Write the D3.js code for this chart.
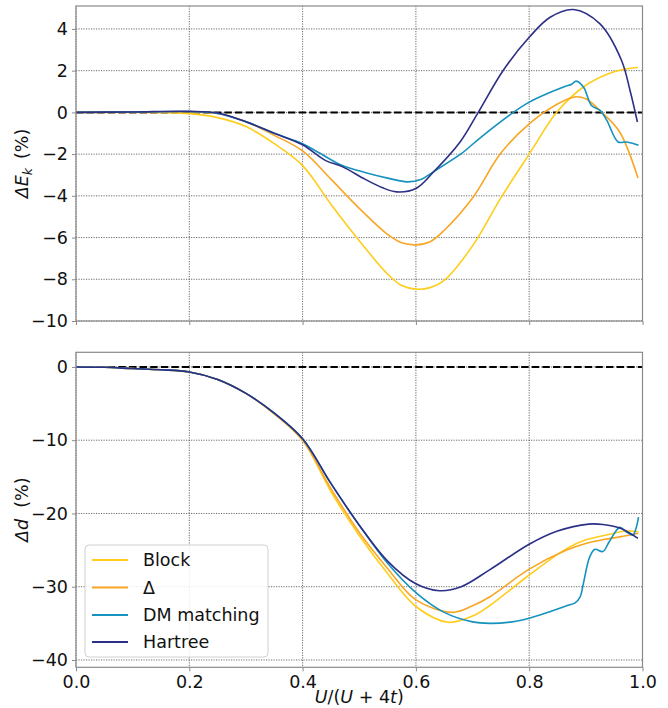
<!DOCTYPE html>
<html>
<head>
<meta charset="utf-8">
<script src="https://cdn.jsdelivr.net/npm/d3@7"></script>
<style>
  html, body { margin: 0; padding: 0; background: #fff; }
  svg { display: block; font-family: "DejaVu Sans", sans-serif; }
</style>
</head>
<body>
<svg id="chart" width="668" height="708"></svg>
<script>
// ---------------- data ----------------
const seriesNames = ["Block", "Δ", "DM matching", "Hartree"];
const seriesColors = ["#ffcd1c", "#f8a623", "#1592bd", "#2c2f86"];

const xTicks = [0, 0.2, 0.4, 0.6, 0.8, 1.0];
const xTickLabels = ["0.0", "0.2", "0.4", "0.6", "0.8", "1.0"];
const ekTicks = [-10, -8, -6, -4, -2, 0, 2, 4];
const dTicks = [-40, -30, -20, -10, 0];

// Top panel: ΔE_k (%)
const ekBlockX = [0, 0.1, 0.15, 0.2, 0.25, 0.3, 0.35, 0.4, 0.45, 0.5, 0.55, 0.575, 0.6, 0.625, 0.65, 0.7, 0.75, 0.8, 0.85, 0.9, 0.95, 0.992];
const ekBlockY = [0, 0, -0.01, -0.06, -0.25, -0.68, -1.5, -2.55, -4.4, -6.15, -7.75, -8.3, -8.47, -8.4, -8.05, -6.4, -4.1, -2.0, 0.05, 1.3, 1.95, 2.15];

const ekDeltaX = [0, 0.1, 0.2, 0.25, 0.3, 0.35, 0.4, 0.45, 0.5, 0.55, 0.575, 0.6, 0.625, 0.65, 0.7, 0.75, 0.8, 0.85, 0.88, 0.9, 0.93, 0.96, 0.992];
const ekDeltaY = [0, 0.01, 0.02, -0.05, -0.45, -1.1, -1.85, -3.2, -4.6, -5.85, -6.25, -6.35, -6.2, -5.65, -4.1, -1.95, -0.55, 0.4, 0.74, 0.65, -0.05, -0.95, -3.15];

const ekDMX = [0, 0.1, 0.2, 0.25, 0.3, 0.35, 0.4, 0.43, 0.47, 0.51, 0.55, 0.585, 0.61, 0.63, 0.68, 0.713, 0.772, 0.8, 0.831, 0.863, 0.875, 0.883, 0.896, 0.91, 0.925, 0.937, 0.957, 0.972, 0.993];
const ekDMY = [0, 0.02, 0.04, -0.05, -0.45, -1.0, -1.5, -1.95, -2.55, -2.88, -3.15, -3.33, -3.2, -2.86, -1.98, -1.23, 0, 0.49, 0.89, 1.24, 1.35, 1.5, 1.21, 0.33, 0.1, -0.38, -1.42, -1.42, -1.58];

const ekHartreeX = [0, 0.1, 0.2, 0.25, 0.3, 0.35, 0.4, 0.44, 0.47, 0.51, 0.54, 0.566, 0.6, 0.631, 0.678, 0.71, 0.754, 0.8, 0.837, 0.878, 0.925, 0.963, 0.978, 0.991];
const ekHartreeY = [0, 0.02, 0.05, -0.03, -0.45, -1.0, -1.55, -2.3, -2.6, -3.2, -3.6, -3.81, -3.65, -2.86, -1.42, 0, 2.01, 3.6, 4.56, 4.93, 4.24, 2.49, 1.05, -0.46];

// Bottom panel: Δd (%)
const dBlockX = [0, 0.05, 0.1, 0.15, 0.2, 0.25, 0.3, 0.35, 0.4, 0.45, 0.5, 0.55, 0.6, 0.657, 0.7, 0.73, 0.8, 0.866, 0.9, 0.936, 0.971, 0.993];
const dBlockY = [0, -0.05, -0.22, -0.38, -0.68, -1.7, -3.6, -6.4, -10.0, -17.0, -23.0, -28.2, -32.7, -34.85, -34.0, -32.6, -28.4, -24.8, -23.6, -22.95, -22.4, -22.5];

const dDeltaX = [0, 0.05, 0.1, 0.15, 0.2, 0.25, 0.3, 0.35, 0.4, 0.45, 0.5, 0.55, 0.6, 0.665, 0.7, 0.73, 0.8, 0.866, 0.9, 0.936, 0.96, 0.993];
const dDeltaY = [0, -0.05, -0.22, -0.38, -0.68, -1.7, -3.6, -6.4, -10.0, -16.6, -22.6, -27.5, -31.8, -33.5, -32.6, -31.4, -27.6, -25.0, -24.1, -23.5, -23.2, -22.7];

const dDMX = [0, 0.05, 0.1, 0.15, 0.2, 0.25, 0.3, 0.35, 0.4, 0.45, 0.5, 0.55, 0.6, 0.65, 0.7, 0.73, 0.77, 0.8, 0.84, 0.866, 0.881, 0.89, 0.895, 0.907, 0.916, 0.93, 0.941, 0.96, 0.971, 0.983, 0.989, 0.993];
const dDMY = [0, -0.05, -0.22, -0.38, -0.68, -1.7, -3.6, -6.3, -9.8, -15.9, -21.6, -26.8, -30.8, -33.5, -34.8, -35.0, -34.8, -34.3, -33.3, -32.6, -32.2, -31.4, -29.8, -25.9, -24.9, -25.2, -23.9, -21.9, -22.5, -22.95, -21.9, -20.5];

const dHartreeX = [0, 0.05, 0.1, 0.15, 0.2, 0.25, 0.3, 0.35, 0.4, 0.45, 0.5, 0.55, 0.6, 0.642, 0.68, 0.73, 0.8, 0.85, 0.905, 0.93, 0.96, 0.992];
const dHartreeY = [0, -0.05, -0.22, -0.38, -0.68, -1.7, -3.6, -6.3, -9.8, -15.9, -21.6, -26.5, -29.6, -30.55, -30.0, -27.7, -24.2, -22.4, -21.45, -21.5, -22.0, -23.4];

const ekSeries = [[ekBlockX, ekBlockY], [ekDeltaX, ekDeltaY], [ekDMX, ekDMY], [ekHartreeX, ekHartreeY]];
const dSeries = [[dBlockX, dBlockY], [dDeltaX, dDeltaY], [dDMX, dDMY], [dHartreeX, dHartreeY]];

// ---------------- layout ----------------
const svg = d3.select("#chart");
const L = 76, R = 642.5;
const panels = [
  { top: 6, bottom: 321, domain: [-10, 5.1], ticks: ekTicks, series: ekSeries, xLabels: false },
  { top: 352.3, bottom: 667.3, domain: [-41, 2], ticks: dTicks, series: dSeries, xLabels: true }
];
const x = d3.scaleLinear().domain([0, 1]).range([L, R]);
const fontSize = 17.5;
const fmt = d3.format("d");

panels.forEach((p, pi) => {
  const y = d3.scaleLinear().domain(p.domain).range([p.bottom, p.top]);
  const g = svg.append("g");

  // grid
  g.selectAll(".vg").data(xTicks).enter().append("line")
    .attr("x1", d => x(d)).attr("x2", d => x(d))
    .attr("y1", p.top).attr("y2", p.bottom)
    .attr("stroke", "#444").attr("stroke-width", 0.8).attr("stroke-dasharray", "1.2,1.3");
  g.selectAll(".hg").data(p.ticks).enter().append("line")
    .attr("x1", L).attr("x2", R)
    .attr("y1", d => y(d)).attr("y2", d => y(d))
    .attr("stroke", "#444").attr("stroke-width", 0.8).attr("stroke-dasharray", "1.2,1.3");

  // zero dashed line
  g.append("line")
    .attr("x1", L).attr("x2", R).attr("y1", y(0)).attr("y2", y(0))
    .attr("stroke", "#000").attr("stroke-width", 2).attr("stroke-dasharray", "7.4,3.2");

  // series
  const line = d3.line().curve(d3.curveCatmullRom.alpha(0.5))
    .x(d => x(d[0])).y(d => y(d[1]));
  p.series.forEach((s, i) => {
    const pts = s[0].map((xv, k) => [xv, s[1][k]]);
    g.append("path").datum(pts)
      .attr("d", line)
      .attr("fill", "none")
      .attr("stroke", seriesColors[i])
      .attr("stroke-width", 1.6)
      .attr("stroke-linejoin", "round");
  });

  // frame
  g.append("rect").attr("x", L).attr("y", p.top).attr("width", R - L).attr("height", p.bottom - p.top)
    .attr("fill", "none").attr("stroke", "#8a8a8a").attr("stroke-width", 1.2);

  // y axis
  const yAxis = d3.axisLeft(y).tickValues(p.ticks).tickFormat(d => fmt(d).replace("-", "−"))
    .tickSize(4).tickPadding(4);
  const ya = g.append("g").attr("transform", `translate(${L},0)`).call(yAxis);
  ya.select(".domain").remove();
  ya.selectAll(".tick line").attr("stroke", "#8a8a8a");
  ya.selectAll(".tick text").attr("font-size", fontSize).attr("fill", "#111")
    .attr("font-family", "DejaVu Sans, sans-serif");

  // x axis
  const xAxis = d3.axisBottom(x).tickValues(xTicks)
    .tickFormat((d, i) => p.xLabels ? xTickLabels[i] : "")
    .tickSize(4).tickPadding(4);
  const xa = g.append("g").attr("transform", `translate(0,${p.bottom})`).call(xAxis);
  xa.select(".domain").remove();
  xa.selectAll(".tick line").attr("stroke", "#8a8a8a");
  xa.selectAll(".tick text").attr("font-size", fontSize).attr("fill", "#111")
    .attr("font-family", "DejaVu Sans, sans-serif");
});

// y labels
const yl1 = svg.append("text")
  .attr("transform", `translate(28,${(6 + 321) / 2}) rotate(-90)`)
  .attr("text-anchor", "middle").attr("font-size", fontSize).attr("fill", "#111");
yl1.append("tspan").attr("font-style", "italic").text("ΔE");
yl1.append("tspan").attr("font-style", "italic").attr("font-size", 12.5).attr("dy", 4).text("k");
yl1.append("tspan").attr("dy", -4).text("\u2009 (%)");

const yl2 = svg.append("text")
  .attr("transform", `translate(28,${(352.3 + 667.3) / 2}) rotate(-90)`)
  .attr("text-anchor", "middle").attr("font-size", fontSize).attr("fill", "#111");
yl2.append("tspan").attr("font-style", "italic").text("Δd");
yl2.append("tspan").text("  (%)").attr("xml:space", "preserve");

// x label
const xl = svg.append("text")
  .attr("x", (L + R) / 2).attr("y", 703)
  .attr("text-anchor", "middle").attr("font-size", fontSize).attr("fill", "#111");
xl.append("tspan").attr("font-style", "italic").text("U");
xl.append("tspan").text("/(");
xl.append("tspan").attr("font-style", "italic").text("U");
xl.append("tspan").text(" + 4");
xl.append("tspan").attr("font-style", "italic").text("t");
xl.append("tspan").text(")");

// legend
const lg = svg.append("g");
lg.append("rect").attr("x", 85).attr("y", 545).attr("width", 183).attr("height", 112)
  .attr("rx", 4).attr("fill", "#fff").attr("fill-opacity", 0.85)
  .attr("stroke", "#d0d0d0").attr("stroke-width", 1);
const legendY = [560, 587.5, 615, 642];
seriesNames.forEach((n, i) => {
  lg.append("line").attr("x1", 92).attr("x2", 128)
    .attr("y1", legendY[i]).attr("y2", legendY[i])
    .attr("stroke", seriesColors[i]).attr("stroke-width", 2);
  lg.append("text").attr("x", 143).attr("y", legendY[i]).attr("dy", "0.35em")
    .attr("font-size", fontSize).attr("fill", "#111").text(n);
});
</script>
</body>
</html>
